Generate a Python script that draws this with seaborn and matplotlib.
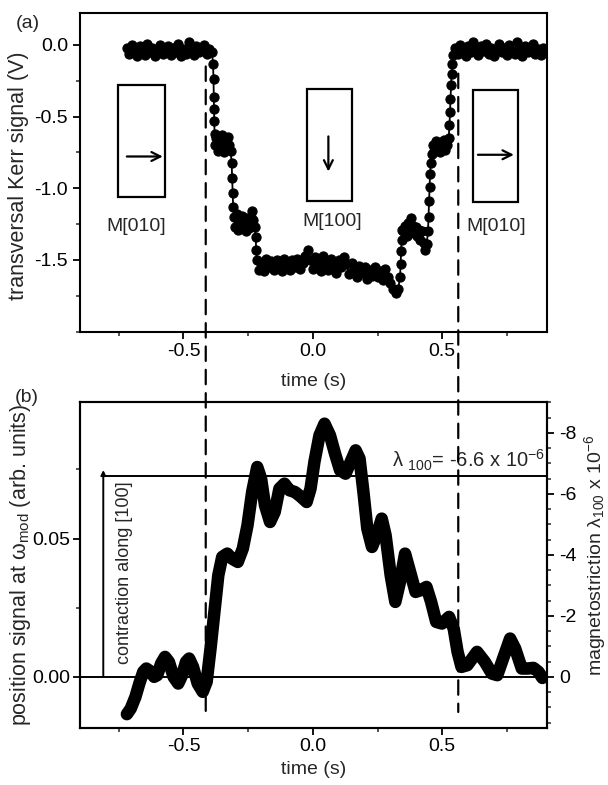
import numpy as np
import pandas as pd
import matplotlib
matplotlib.use("Agg")
import matplotlib.pyplot as plt
from matplotlib.patches import Rectangle, ConnectionPatch
from matplotlib.ticker import MultipleLocator, FixedLocator
import seaborn as sns

# ---------------- data: panel (a) transversal Kerr signal ----------------
# uniform flat segments (start, step, values)
a_flat_left_start, a_step = -0.72, 0.01
a_flat_left = [-0.02, -0.06, 0.00, -0.04, -0.08, -0.01, -0.03, -0.07, 0.01, -0.05,
               -0.02, -0.08, -0.03, 0.00, -0.06, -0.04, -0.01, -0.07, -0.02, -0.05,
               0.01, -0.08, -0.03, -0.06, 0.02, -0.04, -0.07, -0.01, -0.05, -0.02,
               0.00, -0.06, -0.03, -0.05]
a_drop1_x = [-0.386, -0.384, -0.383, -0.382, -0.381, -0.380]
a_drop1_y = [-0.13, -0.24, -0.36, -0.45, -0.53, -0.62]
a_plat1_x = [-0.378, -0.373, -0.368, -0.363, -0.358, -0.353, -0.348, -0.343,
             -0.338, -0.333, -0.328, -0.323, -0.318]
a_plat1_y = [-0.70, -0.65, -0.74, -0.64, -0.71, -0.63, -0.68, -0.75, -0.66,
             -0.72, -0.64, -0.70, -0.74]
a_drop2_x = [-0.314, -0.312, -0.310, -0.308]
a_drop2_y = [-0.82, -0.93, -1.03, -1.13]
a_plat2_x = [-0.305, -0.300, -0.295, -0.290, -0.285, -0.280, -0.275, -0.270, -0.265,
             -0.260, -0.255, -0.250, -0.245, -0.240, -0.235, -0.230, -0.225]
a_plat2_y = [-1.20, -1.27, -1.18, -1.29, -1.22, -1.26, -1.19, -1.28, -1.23,
             -1.30, -1.21, -1.25, -1.28, -1.20, -1.16, -1.22, -1.27]
a_drop3_x = [-0.221, -0.219, -0.217]
a_drop3_y = [-1.34, -1.43, -1.50]
a_plat3_start = -0.21
a_plat3 = [-1.57, -1.52, -1.58, -1.49, -1.55, -1.51, -1.57, -1.50, -1.54, -1.58,
           -1.49, -1.53, -1.57, -1.50, -1.55, -1.49, -1.56, -1.52, -1.47, -1.43,
           -1.50, -1.56, -1.48, -1.53, -1.58, -1.47, -1.52, -1.57, -1.49, -1.54,
           -1.59, -1.50, -1.55, -1.48, -1.53, -1.60, -1.52, -1.57, -1.62, -1.54,
           -1.59, -1.55, -1.63, -1.57, -1.61, -1.55, -1.62, -1.58, -1.64, -1.56,
           -1.62, -1.66, -1.70, -1.73, -1.70]
a_rise4_x = [0.337, 0.339, 0.341, 0.343, 0.346]
a_rise4_y = [-1.62, -1.53, -1.44, -1.36, -1.29]
a_plat4_x = [0.350, 0.356, 0.362, 0.368, 0.374, 0.380, 0.386, 0.392, 0.398, 0.404,
             0.410, 0.416, 0.422, 0.428, 0.434, 0.440]
a_plat4_y = [-1.30, -1.26, -1.33, -1.24, -1.29, -1.21, -1.26, -1.31, -1.27, -1.33,
             -1.29, -1.36, -1.30, -1.38, -1.43, -1.39]
a_rise5_x = [0.445, 0.447, 0.449, 0.451, 0.453, 0.456]
a_rise5_y = [-1.30, -1.20, -1.09, -0.99, -0.90, -0.82]
a_plat5_x = [0.460, 0.465, 0.470, 0.475, 0.480, 0.485, 0.490, 0.495, 0.500, 0.505,
             0.510, 0.515, 0.520, 0.525]
a_plat5_y = [-0.76, -0.70, -0.74, -0.67, -0.72, -0.69, -0.75, -0.68, -0.71, -0.66,
             -0.73, -0.68, -0.70, -0.65]
a_rise6_x = [0.528, 0.530, 0.532, 0.534, 0.536, 0.538, 0.540]
a_rise6_y = [-0.56, -0.47, -0.38, -0.28, -0.20, -0.13, -0.07]
a_flat_right_start = 0.55
a_flat_right = [-0.02, -0.06, 0.00, -0.04, -0.08, -0.01, -0.05, 0.02, -0.03, -0.07,
                -0.01, -0.04, 0.01, -0.06, -0.02, -0.08, -0.03, 0.01, -0.05, -0.02,
                -0.07, 0.00, -0.04, -0.06, 0.02, -0.03, -0.08, -0.01, -0.05, -0.02,
                0.01, -0.06, -0.03, -0.07, -0.02]

# ---------------- data: panel (b) position signal ----------------
b_time = [-0.7188, -0.7038, -0.6857, -0.6707, -0.6556, -0.6436, -0.6286, -0.6135,
          -0.6015, -0.5865, -0.5714, -0.5564, -0.5383, -0.5203, -0.5053, -0.4902,
          -0.4782, -0.4632, -0.4451, -0.4256, -0.4105, -0.3955, -0.3805, -0.3654,
          -0.3504, -0.3308, -0.3128, -0.2902, -0.2707, -0.2526, -0.2346, -0.2150,
          -0.2000, -0.1850, -0.1654, -0.1474, -0.1293, -0.1098, -0.0902, -0.0692,
          -0.0451, -0.0241, -0.0090, 0.0060, 0.0256, 0.0451, 0.0662, 0.0857,
          0.1053, 0.1263, 0.1459, 0.1654, 0.1805, 0.1955, 0.2105, 0.2286,
          0.2466, 0.2662, 0.2812, 0.3008, 0.3188, 0.3368, 0.3564, 0.3759,
          0.3970, 0.4165, 0.4391, 0.4571, 0.4767, 0.4992, 0.5263, 0.5444,
          0.5594, 0.5744, 0.5970, 0.6346, 0.6647, 0.6917, 0.7128, 0.7398,
          0.7624, 0.7820, 0.8075, 0.8301, 0.8526, 0.8722, 0.8872]
b_signal = [-0.01349, -0.01145, -0.00723, -0.00241, 0.00181, 0.00301, 0.00205, 0.0,
            0.00060, 0.00482, 0.00723, 0.00542, 0.0, -0.00241, 0.00060, 0.00542,
            0.00663, 0.00361, -0.00241, -0.00542, -0.00181, 0.01024, 0.02349, 0.03675,
            0.04337, 0.04458, 0.04277, 0.04157, 0.04639, 0.05482, 0.06687, 0.07590,
            0.07169, 0.06205, 0.05602, 0.05964, 0.06807, 0.06988, 0.06747, 0.06687,
            0.06506, 0.06325, 0.06807, 0.07771, 0.08735, 0.09157, 0.08735, 0.08072,
            0.07470, 0.07349, 0.07771, 0.08193, 0.07892, 0.06687, 0.05361, 0.04699,
            0.05120, 0.05723, 0.05120, 0.03675, 0.02711, 0.03434, 0.04458, 0.03795,
            0.03072, 0.03133, 0.03253, 0.02711, 0.01988, 0.01928, 0.02169, 0.01747,
            0.00904, 0.00361, 0.00422, 0.00904, 0.00542, 0.00120, 0.00060, 0.00783,
            0.01386, 0.01024, 0.00301, 0.00301, 0.00325, 0.00181, -0.00040]

# annotations / reference values
dash_times = [-0.414, 0.562]
dash_top_a = [-0.15, -0.20]
dash_bottom_b = -0.0127
lambda_value = -6.6          # x 1e-6
lambda_level = 0.0728        # position signal at which lambda = -6.6
arrow_time = -0.81
arrow_top = 0.0748
boxes = [(-0.752, -1.058, 0.181, 0.781), (-0.023, -1.088, 0.176, 0.781),
         (0.620, -1.092, 0.172, 0.775)]
box_arrows = [((-0.719, -0.778), (-0.580, -0.778)),
              ((0.060, -0.638), (0.060, -0.883)),
              ((0.638, -0.766), (0.777, -0.766))]
box_labels = [("M[010]", -0.681, -1.267), ("M[100]", 0.075, -1.232),
              ("M[010]", 0.710, -1.267)]
xticks = [-0.5, 0.0, 0.5]
a_yticks = [0.0, -0.5, -1.0, -1.5]
b_yticks = [0.00, 0.05]
lam_ticks = [0, -2, -4, -6, -8]
xlim = (-0.9, 0.905)
a_ylim = (-2.0, 0.225)
b_ylim = (-0.0185, 0.0993)

# ---------------- assemble panel (a) ----------------
xa = ([a_flat_left_start + a_step * i for i in range(len(a_flat_left))] + a_drop1_x + a_plat1_x
      + a_drop2_x + a_plat2_x + a_drop3_x
      + [a_plat3_start + a_step * i for i in range(len(a_plat3))]
      + a_rise4_x + a_plat4_x + a_rise5_x + a_plat5_x + a_rise6_x
      + [a_flat_right_start + a_step * i for i in range(len(a_flat_right))])
ya = (a_flat_left + a_drop1_y + a_plat1_y + a_drop2_y + a_plat2_y + a_drop3_y + a_plat3
      + a_rise4_y + a_plat4_y + a_rise5_y + a_plat5_y + a_rise6_y + a_flat_right)
df_a = pd.DataFrame({"time": xa, "kerr": ya})
df_b = pd.DataFrame({"time": b_time, "signal": b_signal})

# ---------------- style ----------------
sns.set_theme(style="ticks")
plt.rcParams["font.family"] = ["Liberation Sans", "DejaVu Sans"]
plt.rcParams["mathtext.fontset"] = "custom"
plt.rcParams["mathtext.rm"] = "Liberation Sans"
plt.rcParams["mathtext.it"] = "Liberation Sans:italic"
plt.rcParams["mathtext.bf"] = "Liberation Sans:bold"
plt.rcParams["axes.unicode_minus"] = False
plt.rcParams["axes.linewidth"] = 1.5
plt.rcParams["axes.edgecolor"] = "black"

fig = plt.figure(figsize=(6.08, 7.85), dpi=100)
W = (547 - 80) / 608
ax_a = fig.add_axes([80 / 608, 0.5775, W, 0.4063])
ax_b = fig.add_axes([80 / 608, 0.0726, W, 0.4149])

def style_ticks(ax, pad):
    ax.tick_params(axis="both", which="major", direction="out", length=5, width=1.3,
                   labelsize=14, pad=pad, colors="black")
    ax.tick_params(axis="both", which="minor", direction="out", length=3, width=1.1)
    for s in ax.spines.values():
        s.set_visible(True)
        s.set_color("black")
        s.set_linewidth(1.5)

# ---------------- panel (a) ----------------
sns.lineplot(data=df_a, x="time", y="kerr", ax=ax_a, color="black", marker="o",
             markersize=6.6, markeredgewidth=0.8, markeredgecolor="black",
             linewidth=1.3, estimator=None, sort=False)
ax_a.set_xlim(*xlim)
ax_a.set_ylim(*a_ylim)
ax_a.xaxis.set_major_locator(FixedLocator(xticks))
ax_a.xaxis.set_minor_locator(MultipleLocator(0.25))
ax_a.yaxis.set_major_locator(FixedLocator(a_yticks))
ax_a.yaxis.set_minor_locator(MultipleLocator(0.25))
ax_a.set_xticklabels([f"{v:.1f}" for v in xticks])
ax_a.set_yticklabels([f"{v:.1f}" for v in a_yticks])
style_ticks(ax_a, 3.5)
ax_a.set_xlabel("time (s)", fontsize=14)
ax_a.set_ylabel("transversal Kerr signal (V)", fontsize=15.5)
ax_a.xaxis.set_label_coords(0.5, -0.13)
ax_a.yaxis.set_label_coords(-0.109, 0.49)

for (x0, y0, w, h) in boxes:
    ax_a.add_patch(Rectangle((x0, y0), w, h, fill=False, edgecolor="black", linewidth=1.6))
for (start, end) in box_arrows:
    ax_a.annotate("", xy=end, xytext=start,
                  arrowprops=dict(arrowstyle="->", color="black", lw=1.6, mutation_scale=16,
                                  shrinkA=0, shrinkB=0))
for (txt, x, y) in box_labels:
    ax_a.text(x, y, txt, ha="center", va="center", fontsize=14)

# ---------------- panel (b) ----------------
sns.lineplot(data=df_b, x="time", y="signal", ax=ax_b, color="black", linewidth=9,
             estimator=None, sort=False, solid_joinstyle="round", solid_capstyle="round")
ax_b.set_xlim(*xlim)
ax_b.set_ylim(*b_ylim)
ax_b.axhline(0, color="black", linewidth=1.4, zorder=1)
ax_b.plot([arrow_time, xlim[1]], [lambda_level, lambda_level], color="black", linewidth=1.4)
ax_b.annotate("", xy=(arrow_time, arrow_top), xytext=(arrow_time, 0),
              arrowprops=dict(arrowstyle="-|>", color="black", lw=1.4, mutation_scale=7,
                              shrinkA=0, shrinkB=0))
ax_b.text(-0.727, 0.0376, "contraction along [100]", rotation=90, ha="center",
          va="center", fontsize=13)
ax_b.text(0.304, 0.0757, "λ $_{\\mathrm{100}}$= -6.6 x 10$^{\\mathrm{-6}}$",
          ha="left", va="baseline", fontsize=14.5)
ax_b.xaxis.set_major_locator(FixedLocator(xticks))
ax_b.xaxis.set_minor_locator(MultipleLocator(0.25))
ax_b.yaxis.set_major_locator(FixedLocator(b_yticks))
ax_b.yaxis.set_minor_locator(MultipleLocator(0.025))
ax_b.set_xticklabels([f"{v:.1f}" for v in xticks])
ax_b.set_yticklabels([f"{v:.2f}" for v in b_yticks])
style_ticks(ax_b, 2.0)
ax_b.set_xlabel("time (s)", fontsize=14)
ax_b.set_ylabel("position signal at ω$_{\\mathrm{mod}}$ (arb. units)", fontsize=15.5)
ax_b.xaxis.set_label_coords(0.5, -0.1)
ax_b.yaxis.set_label_coords(-0.10, 0.5)

# right axis: magnetostriction
lam_factor = lambda_value / lambda_level
ax_r = ax_b.twinx()
ax_r.set_ylim(b_ylim[0] * lam_factor, b_ylim[1] * lam_factor)
ax_r.yaxis.set_major_locator(FixedLocator(lam_ticks))
ax_r.yaxis.set_minor_locator(MultipleLocator(0.5))
ax_r.set_yticklabels([f"{v:d}" for v in lam_ticks])
ax_r.grid(False)
style_ticks(ax_r, 4.0)
ax_r.set_ylabel("magnetostriction λ$_{\\mathrm{100}}$ x 10$^{\\mathrm{-6}}$", fontsize=14)
ax_r.yaxis.set_label_coords(1.075, 0.53)

# dashed lines spanning both panels
for t, ytop in zip(dash_times, dash_top_a):
    con = ConnectionPatch(xyA=(t, ytop), coordsA=ax_a.transData,
                          xyB=(t, dash_bottom_b), coordsB=ax_b.transData,
                          color="black", linewidth=1.6, linestyle=(0, (6.5, 4)))
    fig.add_artist(con)

fig.text(28 / 608, 1 - 24 / 785, "(a)", fontsize=14, ha="center", va="center")
fig.text(27 / 608, 1 - 397 / 785, "(b)", fontsize=14, ha="center", va="center")

fig.savefig("out.png", dpi=100)
